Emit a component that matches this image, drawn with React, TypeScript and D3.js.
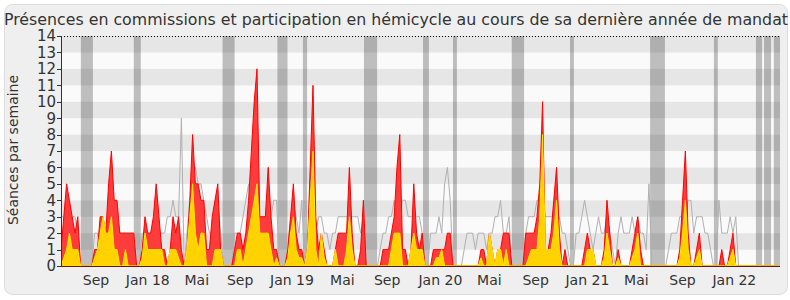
import React from "react";
import * as d3 from "d3";

// Weekly values (week index 0 .. 256)
const commissionTotal = [
  1,3,5,4,3,2,3,0,0,0, 0,0,1,1,3,3,2,5,7,4, 4,2,2,2,2,2,2,0,0,1, 3,2,2,3,5,3,1,1,0,1,
  3,2,3,1,0,1,4,8,5,5, 4,4,1,1,3,4,5,1,0,0, 0,0,1,2,2,1,2,4,7,10, 12,3,3,3,6,3,1,1,0,0,
  0,1,3,5,2,1,1,0,1,6, 11,3,1,2,1,0,0,0,1,2, 2,2,2,6,2,0,0,1,4,0, 0,0,0,0,0,1,1,1,2,3,
  6,8,1,1,0,1,5,2,1,2, 0,0,0,1,1,1,1,1,2,2, 0,0,0,0,0,0,0,0,0,0, 1,1,0,2,1,0,1,1,2,2,
  2,0,0,0,0,0,2,2,2,2, 3,5,10,1,1,2,4,6,2,0, 1,0,0,0,0,0,0,1,2,1, 1,0,0,0,1,4,2,0,0,1,
  0,0,0,0,1,2,3,1,0,0, 0,0,0,0,0,0,0,0,0,0, 0,1,4,7,2,0,0,1,2,0, 0,0,0,0,0,0,1,0,0,1,
  2,0,0,0,0,0,0,0,0,0, 0,0,0,0,0,0,0
];
const hemicycle = [
  0,0.5,1,2,1,1,1,0,0,0, 0,0,0.5,1,2,3,2,2,3,1, 1,0,0,1,0,0,0,0,0,0.5, 2,1,1,1,1,1,1,0,0,1,
  1,1,0.5,0,0,1,3,5,2,1, 2,2,0,0,0,1,1,1,0,0, 0,0,0,1,1,0,1,2,3,4, 5,2,2,2,2,1,0,0.5,0,0,
  0,0.5,2,3,1,0.5,0.5,0,1,4, 7,1,0,2,0.5,0,0,0,1,0, 0,0,1,3,1,0,0,0,0,0, 0,0,0,0,0,0,0,0,1,2,
  2,2,0,0,0,1,2,1,1,1, 0,0,0,0,0.5,0.5,1,0,0,0, 0,0,0,0,0,0,0,0,0,0, 0.5,0,0,2,1,0,1,1,0,1,
  0,0,0,0,0,0,0,0.5,1,1, 1,3,8,1,1,1,2,4,1,0, 0,0,0,0,0,0,0,0,1,1, 1,0,0,0,0.5,2,1,0,0,0.5,
  0,0,0,0,0.5,1,2,0,0,0, 0,0,0,0,0,0,0,0,0,0, 0,0.5,2,4,1,0,0,0.5,1,0, 0,0,0,0,0,0,0,0,0,0.5,
  1,0,0,0,0,0,0,0,0,0, 0,0,0,0,0,0,0
];
const median = [
  3,3,3,3,3,3,2,0,0,0, 0,0,2,2,1,2,2,2,2,2, 3,2,2,2,2,2,2,0,0,2, 2,2,2,2,2,2,2,2,3,3,
  4,3,3,9,0,2,4,5,6,5, 5,4,3,2,2,4,4,2,0,0, 0,0,2,2,2,3,4,5,3,3, 4,3,3,3,4,3,4,4,0,0,
  0,1,3,4,3,2,4,0,2,2, 3,2,3,3,2,2,1,2,2,3, 3,3,3,3,3,3,3,2,3,0, 0,0,0,0,1,2,2,3,3,4,
  3,3,4,4,3,3,3,3,3,2, 0,0,2,2,2,3,2,5,6,4, 0,0,0,0,1,2,2,2,1,2, 2,2,1,2,2,3,3,4,2,2,
  3,0,0,0,0,0,2,3,3,3, 4,4,4,3,3,3,3,3,3,2, 2,1,0,0,2,2,3,4,3,2, 1,2,3,2,2,3,2,1,0,2,
  3,2,2,2,3,2,3,2,2,1, 5,0,0,0,0,0,0,1,2,2, 2,3,3,3,4,4,2,3,3,3, 2,2,1,0,0,4,2,2,2,3,
  2,3,0,0,0,0,0,0,0,0, 0,0,0,0,0,0,0
];

// Parliamentary breaks (week positions)
const vacationStart = [7.1, 26, 57.7, 77.3, 86.4, 108.2, 129.3, 140, 161, 181.8, 210.4, 233.2, 248.2, 251.1, 254.6];
const vacationEnd = [11.4, 28.5, 62, 80.9, 87.9, 112.9, 131.4, 141.4, 165.4, 183.2, 215.7, 234.6, 250.4, 253.6, 257];

const tickLabels = ["Sep", "Jan 18", "Mai", "Sep", "Jan 19", "Mai", "Sep", "Jan 20", "Mai", "Sep", "Jan 21", "Mai", "Sep", "Jan 22"];
const tickWeeks = [12.5, 31, 48.5, 64, 82.5, 100.5, 116.5, 135.5, 153, 169.5, 188, 205.5, 222, 240.5];
const yTicks = d3.range(0, 15);

const title = "Présences en commissions et participation en hémicycle au cours de sa dernière année de mandat";
const yTitle = "Séances par semaine";

export default function App() {
  const W = 790, H = 300;
  const left = 61, right = 780, top = 36, bottom = 266;
  const x = d3.scaleLinear().domain([0, 256.8]).range([left, right]);
  const y = d3.scaleLinear().domain([0, 14]).range([bottom, top]);
  const idx = d3.range(commissionTotal.length);

  const areaRed = d3.area<number>().x((i) => x(i)).y0(y(0)).y1((i) => y(commissionTotal[i]));
  const areaYellow = d3.area<number>().x((i) => x(i)).y0(y(0)).y1((i) => y(hemicycle[i]));
  const lineGrey = d3.line<number>().x((i) => x(i)).y((i) => y(median[i]));
  const font = "DejaVu Sans, Verdana, sans-serif";

  return (
    <svg width={W} height={H} style={{ position: "absolute", left: 0, top: 0 }} fontFamily={font}>
      <rect x={0} y={0} width={W} height={H} fill="#ffffff" />
      <rect x={4.5} y={4.5} width={783} height={290} rx={8} fill="#efefef" stroke="#dcdcdc" />
      <defs>
        <clipPath id="plot">
          <rect x={left} y={top} width={right - left} height={bottom - top} />
        </clipPath>
      </defs>
      {yTicks.slice(0, 14).map((v) => (
        <rect key={"s" + v} x={left} width={right - left} y={y(v + 1)} height={y(v) - y(v + 1)}
          fill={v % 2 === 1 ? "#e6e6e6" : "#fafafa"} />
      ))}
      <g clipPath="url(#plot)">
        {vacationStart.map((s, k) => (
          <rect key={"v" + k} x={x(s)} width={x(vacationEnd[k]) - x(s)} y={top} height={bottom - top}
            fill="#000" fillOpacity={0.24} />
        ))}
        <path d={lineGrey(idx) || ""} fill="none" stroke="#b0b0b0" strokeWidth={1} />
        <path d={areaRed(idx) || ""} fill="#ff3c3c" stroke="#ff0000" strokeWidth={1} />
        <path d={areaYellow(idx) || ""} fill="#ffd200" stroke="#ffe600" strokeWidth={1} />
      </g>
      <line x1={left} x2={right} y1={top + 0.5} y2={top + 0.5} stroke="#000" strokeDasharray="1,2" />
      <line x1={left + 0.5} x2={left + 0.5} y1={top} y2={bottom} stroke="#333" />
      <line x1={left} x2={right} y1={bottom + 0.5} y2={bottom + 0.5} stroke="#5a1a1a" />
      {yTicks.map((v) => (
        <g key={"t" + v}>
          <line x1={left - 4} x2={left} y1={Math.round(y(v)) + 0.5} y2={Math.round(y(v)) + 0.5} stroke="#333" />
          <text x={left - 5} y={y(v)} dy="0.36em" textAnchor="end" fontSize={15} fill="#333">{v}</text>
        </g>
      ))}
      {tickLabels.map((t, k) => (
        <text key={"x" + k} x={x(tickWeeks[k])} y={285} textAnchor="middle" fontSize={14} fill="#333">{t}</text>
      ))}
      <text x={396} y={25} textAnchor="middle" fontSize={15.8} fill="#333">{title}</text>
      <text transform={`translate(18,150) rotate(-90)`} textAnchor="middle" fontSize={14} fill="#333">{yTitle}</text>
    </svg>
  );
}
